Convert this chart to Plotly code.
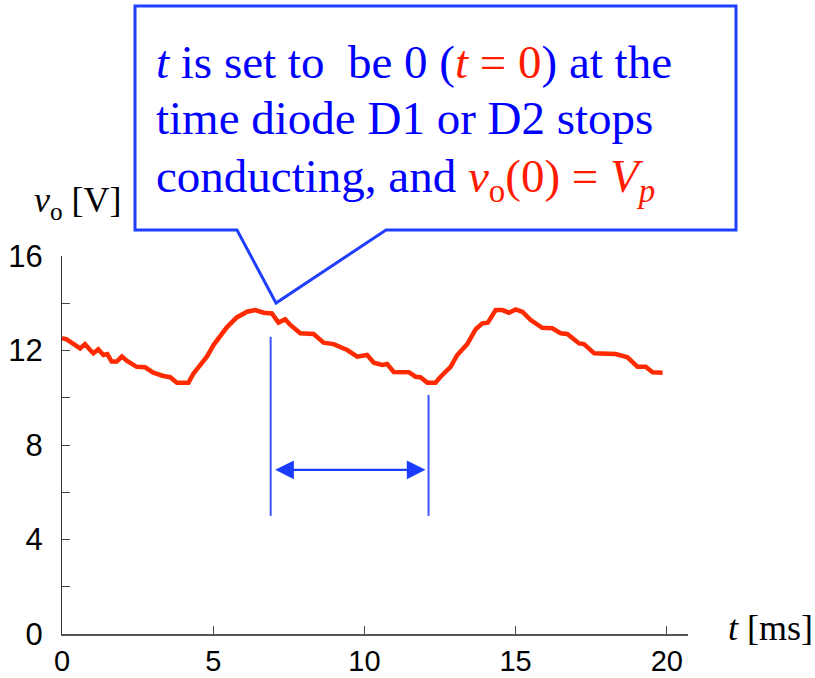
import plotly.graph_objects as go

# ---- data ----
t_ms = [0, 0.15, 0.6, 0.76, 0.93, 1.04, 1.2, 1.37, 1.5, 1.64, 1.81, 1.98, 2.14, 2.47, 2.75,
        3.02, 3.35, 3.58, 3.8, 4.18, 4.35, 4.57, 4.79, 5.01, 5.23, 5.45, 5.78, 6.12, 6.39,
        6.67, 6.94, 7.16, 7.38, 7.55, 7.88, 8.32, 8.65, 8.98, 9.43, 9.76, 10.09, 10.31,
        10.59, 10.75, 10.97, 11.19, 11.47, 11.69, 11.85, 12.08, 12.35, 12.52, 12.85, 13.07,
        13.4, 13.68, 13.9, 14.08, 14.34, 14.56, 14.78, 15.0, 15.22, 15.5, 15.88, 16.21,
        16.49, 16.71, 17.1, 17.26, 17.6, 18.31, 18.7, 19.03, 19.3, 19.53, 19.86]
vo_V = [12.52, 12.47, 12.09, 12.27, 12.02, 11.88, 12.05, 11.81, 11.85, 11.53, 11.53, 11.74,
        11.57, 11.31, 11.29, 11.06, 10.92, 10.87, 10.64, 10.64, 11.03, 11.39, 11.74, 12.23,
        12.58, 12.98, 13.4, 13.64, 13.71, 13.6, 13.57, 13.18, 13.32, 13.08, 12.73, 12.7,
        12.33, 12.27, 12.02, 11.74, 11.81, 11.48, 11.39, 11.43, 11.09, 11.08, 11.08, 10.89,
        10.87, 10.64, 10.64, 10.89, 11.31, 11.81, 12.27, 12.9, 13.15, 13.18, 13.71, 13.71,
        13.6, 13.74, 13.64, 13.29, 12.96, 12.94, 12.73, 12.7, 12.3, 12.27, 11.88, 11.85,
        11.71, 11.31, 11.31, 11.08, 11.06]

x_tick_vals = [0, 5, 10, 15, 20]
y_tick_vals = [0, 4, 8, 12, 16]
marker_t = [6.9, 12.12]        # interval markers (t = 0 point and next stop)
marker_top = [12.58, 10.12]    # top of each marker line
marker_bottom = 5.0
arrow_level = 6.95

# ---- geometry helpers (pixel -> paper) ----
W, H = 815, 678
L, R, T, B = 62, 688, 256, 634


def px(x):
    return (x - L) / (R - L)


def py(y):
    return (B - y) / (B - T)


BLUE = "#0000ff"
LINEBLUE = "#1f3fff"
RED = "#ff1a00"

fig = go.Figure()
fig.add_trace(go.Scatter(x=t_ms, y=vo_V, mode="lines",
                         line=dict(color="#ff2a00", width=4.5), hoverinfo="skip"))

# marker lines
for tx, top in zip(marker_t, marker_top):
    fig.add_shape(type="line", xref="x", yref="y", x0=tx, x1=tx, y0=marker_bottom, y1=top,
                  line=dict(color="#3a55ff", width=2))

# double-headed arrow
fig.add_annotation(xref="x", yref="y", axref="x", ayref="y",
                   x=marker_t[1] - 0.1, y=arrow_level, ax=marker_t[0] + 0.1, ay=arrow_level,
                   text="", showarrow=True, arrowhead=2, startarrowhead=2,
                   arrowside="end+start", arrowsize=1.7, startarrowsize=1.7,
                   arrowwidth=2.2, arrowcolor="#1a3cff")

# callout box with pointer
bx0, by0, bx1, by1 = 135, 6, 736, 230
p1, tip, p2 = (237, 230), (276, 303), (386, 230)
path = (f"M {px(bx0)},{py(by0)} L {px(bx1)},{py(by0)} L {px(bx1)},{py(by1)} "
        f"L {px(p2[0])},{py(p2[1])} L {px(tip[0])},{py(tip[1])} L {px(p1[0])},{py(p1[1])} "
        f"L {px(bx0)},{py(by1)} Z")
fig.add_shape(type="path", xref="paper", yref="paper", path=path,
              fillcolor="white", line=dict(color=LINEBLUE, width=3))

serif = "Liberation Serif, Times New Roman, serif"
lines = [
    (f"<i>t</i> is set to\u00a0 be 0 (<span style='color:{RED}'><i>t</i> = 0</span>) at the", 62),
    ("time diode D1 or D2 stops", 118),
    (f"conducting, and <span style='color:{RED}'><i>v</i><sub>o</sub>(0) = <i>V<sub>p</sub></i></span>", 180),
]
for txt, yc in lines:
    fig.add_annotation(xref="paper", yref="paper", x=px(154), y=py(yc), xanchor="left",
                       yanchor="middle", text=txt, showarrow=False,
                       font=dict(family=serif, size=47, color=BLUE))

# axis titles
fig.add_annotation(xref="paper", yref="paper", x=px(124), y=py(202), xanchor="right",
                   yanchor="middle", text="<i>v</i><sub>o</sub> [V]", showarrow=False,
                   font=dict(family=serif, size=36, color="black"))
fig.add_annotation(xref="paper", yref="paper", x=px(726), y=py(628), xanchor="left",
                   yanchor="middle", text="<i>t</i> [ms]", showarrow=False,
                   font=dict(family=serif, size=36, color="black"))

sans = "Liberation Sans Narrow, Arial Narrow, Liberation Sans, Arial"
fig.update_xaxes(range=[0, 20.7], tickvals=x_tick_vals, ticktext=[str(v) for v in x_tick_vals],
                 ticks="inside", ticklen=8, tickcolor="#444", showline=True, linecolor="#555",
                 linewidth=1.5, showgrid=False, zeroline=False,
                 tickfont=dict(family=sans, size=29, color="black"),
                 ticklabelstandoff=0, automargin=False)
fig.update_yaxes(range=[0, 16], tickvals=y_tick_vals, ticktext=[str(v) for v in y_tick_vals],
                 ticks="inside", ticklen=8, tickcolor="#444", showline=True, linecolor="#333",
                 linewidth=1, showgrid=False, zeroline=False,
                 tickfont=dict(family=sans, size=31, color="black"),
                 ticklabelstandoff=12, automargin=False,
                 minor=dict(tickvals=[2, 6, 10, 14], ticks="inside", ticklen=8, tickcolor="#444"))

fig.update_layout(width=W, height=H, margin=dict(l=L, r=W - R, t=T, b=H - B),
                  plot_bgcolor="white", paper_bgcolor="white", showlegend=False)

fig.write_html("out.html")
